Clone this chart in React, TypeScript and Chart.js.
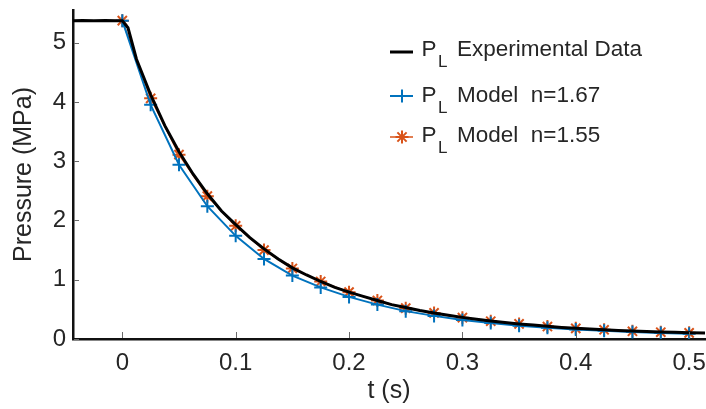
import React, { useEffect, useRef } from 'react';
import { Chart, registerables } from 'chart.js';

Chart.register(...registerables);

const xTicks = [0, 0.1, 0.2, 0.3, 0.4, 0.5];
const yTicks = [0, 1, 2, 3, 4, 5];

const modelTimes = [0, 0.025, 0.05, 0.075, 0.1, 0.125, 0.15, 0.175, 0.2, 0.225, 0.25, 0.275, 0.3, 0.325, 0.35, 0.375, 0.4, 0.425, 0.45, 0.475, 0.5];
const model167 = [5.37, 3.95, 2.94, 2.24, 1.74, 1.35, 1.07, 0.87, 0.71, 0.58, 0.47, 0.39, 0.32, 0.27, 0.225, 0.19, 0.16, 0.14, 0.12, 0.1, 0.09];
const model155 = [5.37, 4.06, 3.11, 2.41, 1.91, 1.5, 1.19, 0.97, 0.79, 0.65, 0.52, 0.44, 0.36, 0.3, 0.255, 0.21, 0.18, 0.155, 0.13, 0.115, 0.104];

const expTimes = [-0.0435, -0.035, -0.025, -0.015, -0.005, 0, 0.005, 0.0125, 0.025, 0.0375, 0.05, 0.0625, 0.075, 0.0875, 0.1, 0.1125, 0.125, 0.1375, 0.15, 0.1625, 0.175, 0.1875, 0.2, 0.2125, 0.225, 0.2375, 0.25, 0.2625, 0.275, 0.2875, 0.3, 0.3125, 0.325, 0.3375, 0.35, 0.3625, 0.375, 0.3875, 0.4, 0.4125, 0.425, 0.4375, 0.45, 0.4625, 0.475, 0.4875, 0.5, 0.514];
const expPressure = [5.37, 5.372, 5.368, 5.371, 5.369, 5.37, 5.25, 4.72, 4.12, 3.6, 3.16, 2.78, 2.45, 2.16, 1.93, 1.71, 1.52, 1.35, 1.2, 1.08, 0.97, 0.87, 0.79, 0.72, 0.65, 0.58, 0.53, 0.48, 0.44, 0.4, 0.365, 0.335, 0.305, 0.28, 0.255, 0.235, 0.215, 0.195, 0.18, 0.168, 0.155, 0.145, 0.135, 0.127, 0.12, 0.112, 0.105, 0.1];

const legendLabels = ['Experimental Data', 'Model  n=1.67', 'Model  n=1.55'];

const BLUE = '#0072BD';
const ORANGE = '#D95319';
const TEXT = '#262626';
const FONT = '"Liberation Sans", Arial, sans-serif';

const toPoints = (xs: number[], ys: number[]) => xs.map((x, i) => ({ x, y: ys[i] }));

function drawCross(ctx: CanvasRenderingContext2D, x: number, y: number, r: number) {
  ctx.beginPath();
  ctx.moveTo(x - r, y);
  ctx.lineTo(x + r, y);
  ctx.moveTo(x, y - r);
  ctx.lineTo(x, y + r);
  ctx.stroke();
}

function drawStar(ctx: CanvasRenderingContext2D, x: number, y: number, r: number) {
  drawCross(ctx, x, y, r);
  const d = r * Math.SQRT1_2;
  ctx.beginPath();
  ctx.moveTo(x - d, y - d);
  ctx.lineTo(x + d, y + d);
  ctx.moveTo(x - d, y + d);
  ctx.lineTo(x + d, y - d);
  ctx.stroke();
}

const AREA_RIGHT = 705;

const extrasPlugin = {
  id: 'extras',
  afterLayout(chart: any) {
    const ca = chart.chartArea;
    if (ca.right !== AREA_RIGHT) {
      ca.right = AREA_RIGHT;
      ca.width = ca.right - ca.left;
      const xs = chart.scales.x;
      xs.right = AREA_RIGHT;
      xs.width = xs.right - xs.left;
      xs.configure();
    }
  },
  afterDraw(chart: any) {
    const ctx: CanvasRenderingContext2D = chart.ctx;
    const { left, bottom } = chart.chartArea;
    const xs = chart.scales.x;
    const ys = chart.scales.y;
    ctx.save();
    // inward tick marks
    ctx.strokeStyle = '#6a6a6a';
    ctx.lineWidth = 1;
    xTicks.forEach((v) => {
      const px = Math.round(xs.getPixelForValue(v)) + 0.5;
      ctx.beginPath();
      ctx.moveTo(px, bottom - 1);
      ctx.lineTo(px, bottom - 7);
      ctx.stroke();
    });
    yTicks.forEach((v) => {
      const py = Math.round(ys.getPixelForValue(v)) + 0.5;
      ctx.beginPath();
      ctx.moveTo(left + 1, py);
      ctx.lineTo(left + 6, py);
      ctx.stroke();
    });

    // x tick labels
    ctx.fillStyle = TEXT;
    ctx.font = `24px ${FONT}`;
    ctx.textAlign = 'center';
    ctx.textBaseline = 'middle';
    xTicks.forEach((v) => {
      ctx.fillText(String(v), xs.getPixelForValue(v), bottom + 24);
    });

    // legend
    const rows = [52, 96, 137];
    const colors = ['#000000', BLUE, ORANGE];
    const widths = [3, 2, 1.5];
    rows.forEach((cy, i) => {
      ctx.strokeStyle = colors[i];
      ctx.lineWidth = widths[i];
      ctx.beginPath();
      ctx.moveTo(390, cy);
      ctx.lineTo(413, cy);
      ctx.stroke();
      if (i === 1) {
        ctx.lineWidth = 2;
        drawCross(ctx, 402, cy, 6.5);
      } else if (i === 2) {
        ctx.lineWidth = 2;
        drawStar(ctx, 402, cy, 6.5);
      }
    });
    const baselines = [56, 101.5, 141.7];
    ctx.fillStyle = TEXT;
    ctx.textAlign = 'left';
    ctx.textBaseline = 'alphabetic';
    baselines.forEach((b, i) => {
      ctx.font = `22.5px ${FONT}`;
      ctx.fillText('P', 421.5, b);
      ctx.fillText(legendLabels[i], 457, b);
      ctx.font = `17px ${FONT}`;
      ctx.fillText('L', 438, b + 11);
    });
    ctx.restore();
  },
};

export default function App() {
  const canvasRef = useRef<HTMLCanvasElement | null>(null);

  useEffect(() => {
    const canvas = canvasRef.current;
    if (!canvas) return;
    const chart = new Chart(canvas, {
      type: 'line',
      data: {
        datasets: [
          {
            label: 'P_L Experimental Data',
            data: toPoints(expTimes, expPressure),
            borderColor: '#000000',
            borderWidth: 3,
            pointRadius: 0,
            tension: 0,
          },
          {
            label: 'P_L Model n=1.67',
            data: toPoints(modelTimes, model167),
            borderColor: BLUE,
            borderWidth: 2,
            pointStyle: 'cross',
            pointRadius: 6.5,
            pointBorderWidth: 2,
            pointBorderColor: BLUE,
            pointBackgroundColor: BLUE,
            tension: 0,
          },
          {
            label: 'P_L Model n=1.55',
            data: toPoints(modelTimes, model155),
            borderColor: ORANGE,
            borderWidth: 1.5,
            pointStyle: 'star',
            pointRadius: 6.5,
            pointBorderWidth: 2,
            pointBorderColor: ORANGE,
            pointBackgroundColor: ORANGE,
            tension: 0,
          },
        ],
      },
      options: {
        animation: false,
        responsive: false,
        devicePixelRatio: 1,
        layout: { padding: { left: 0, top: 10, right: 1, bottom: 0 } },
        plugins: { legend: { display: false }, tooltip: { enabled: false } },
        scales: {
          x: {
            type: 'linear',
            min: -0.0435,
            max: 0.514,
            afterBuildTicks: (s: any) => {
              s.ticks = xTicks.map((v) => ({ value: v }));
            },
            afterFit: (s: any) => {
              s.height = 70;
              s.paddingLeft = 0;
              s.paddingRight = 0;
            },
            grid: { display: false, drawTicks: false },
            border: { display: true, color: '#111111', width: 2.5 },
            ticks: { display: false },
            title: {
              display: true,
              text: 't (s)',
              color: TEXT,
              font: { family: FONT, size: 25 },
              padding: { top: 0, bottom: 3 },
            },
          },
          y: {
            type: 'linear',
            min: 0,
            max: 5.55,
            afterBuildTicks: (s: any) => {
              s.ticks = yTicks.map((v) => ({ value: v }));
            },
            afterFit: (s: any) => {
              s.width = 73;
              s.paddingLeft = 0;
              s.paddingRight = 0;
              s.paddingTop = 0;
              s.paddingBottom = 0;
            },
            grid: { display: false, drawTicks: false },
            border: { display: true, color: '#111111', width: 2.5 },
            ticks: {
              padding: 7,
              color: TEXT,
              font: { family: FONT, size: 24 },
              callback: (v: any) => String(v),
            },
            title: {
              display: true,
              text: 'Pressure (MPa)',
              color: TEXT,
              font: { family: FONT, size: 25 },
              padding: { top: 9, bottom: 0 },
            },
          },
        },
      },
      plugins: [extrasPlugin],
    } as any);
    return () => chart.destroy();
  }, []);

  return (
    <div style={{ position: 'fixed', left: 0, top: 0, width: 706, height: 409, background: '#ffffff' }}>
      <canvas ref={canvasRef} width={706} height={409} style={{ display: 'block', width: 706, height: 409 }} />
    </div>
  );
}
